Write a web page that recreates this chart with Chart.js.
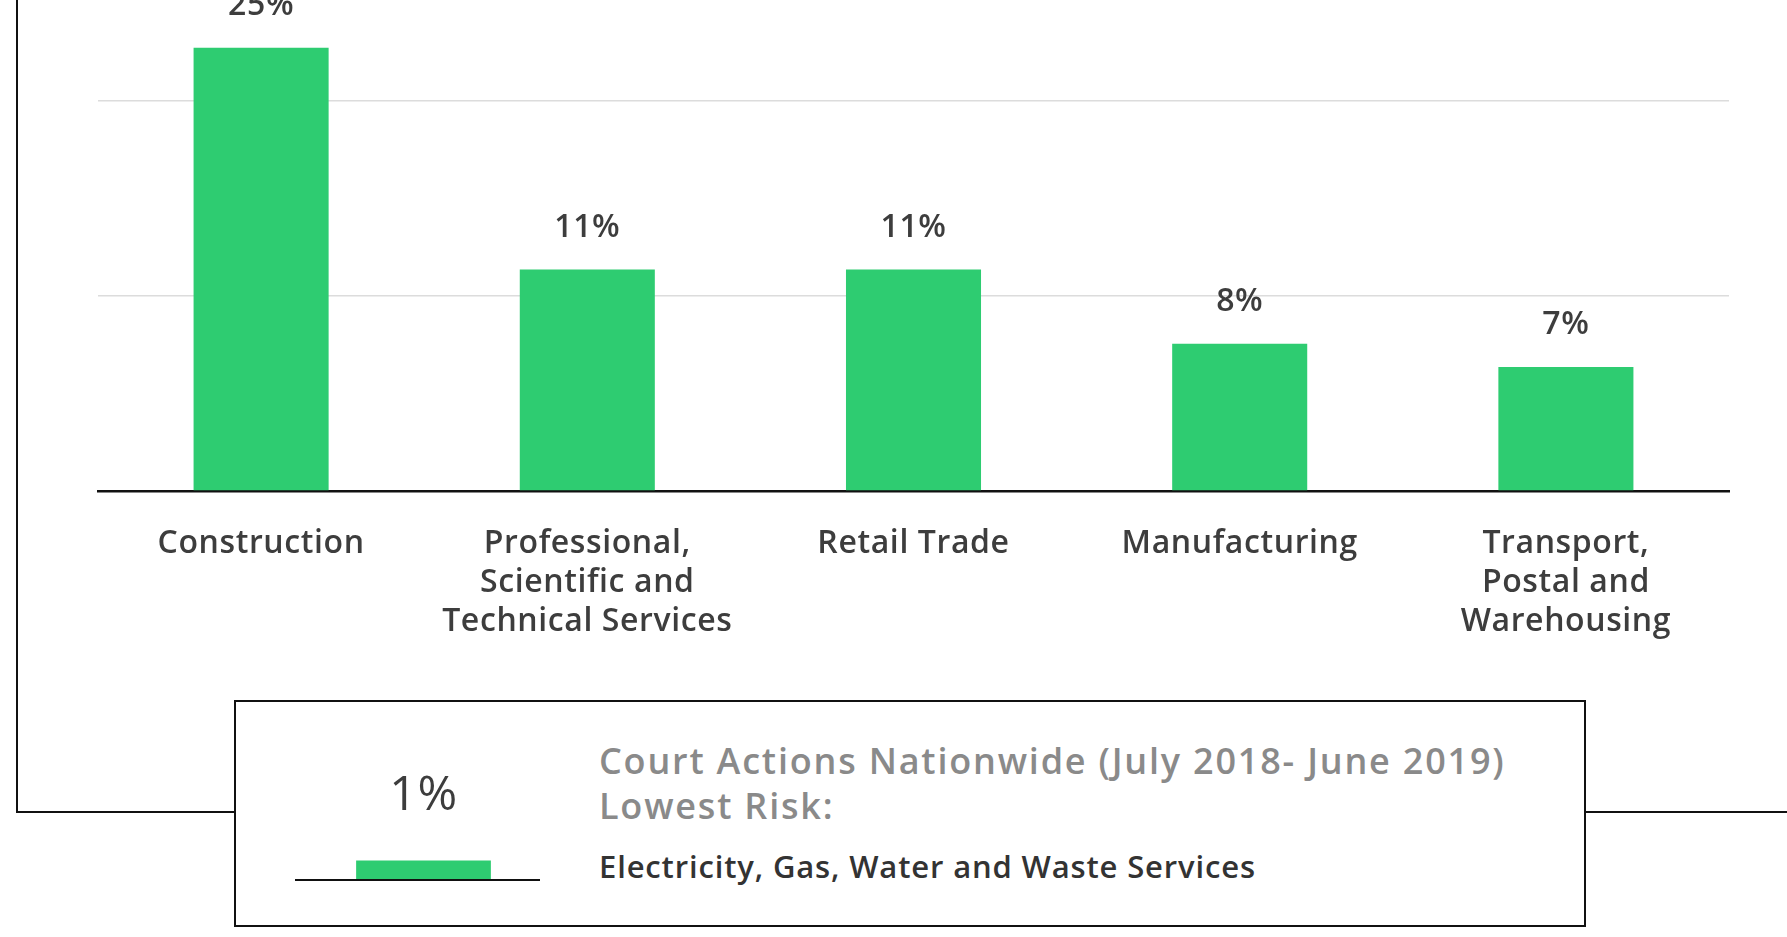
<!DOCTYPE html>
<html>
<head>
<meta charset="utf-8">
<script src="https://cdn.jsdelivr.net/npm/chart.js@4.4.1/dist/chart.umd.min.js"></script>
<style>
  html, body { margin: 0; padding: 0; background: #fff; }
  body { width: 1787px; height: 937px; overflow: hidden; position: relative; font-family: 'Open Sans', sans-serif; }
  #frame { position: absolute; left: 16px; top: -20px; width: 2000px; height: 831px; border-left: 2.5px solid #111; border-bottom: 2.5px solid #111; }
  #mainWrap { position: absolute; left: 0; top: -150px; width: 1787px; height: 821px; }
  #box { position: absolute; left: 234px; top: 700px; width: 1348px; height: 223px; border: 2.5px solid #111; background: #fff; }
  #miniWrap { position: absolute; left: 301px; top: 760px; width: 245px; height: 124px; }
  #baseLine { position: absolute; left: 295px; top: 878.5px; width: 245px; height: 2.5px; background: #111; }
  .boxText { position: absolute; left: 599px; white-space: nowrap; font-weight: 600; }
  #t1 { top: 738px; font-size: 36px; color: #8a8a8a; line-height: 45px; letter-spacing: 1.8px; }
  #t2 { top: 845px; font-size: 31px; color: #333; letter-spacing: 0.85px; }
</style>
</head>
<body>
<div id="frame"></div>
<div id="mainWrap"><canvas id="mainChart"></canvas></div>
<div id="box"></div>
<div id="miniWrap"><canvas id="miniChart"></canvas></div>
<div id="baseLine"></div>
<div class="boxText" id="t1">Court Actions Nationwide (July 2018- June 2019)<br>Lowest Risk:</div>
<div class="boxText" id="t2">Electricity, Gas, Water and Waste Services</div>
<script>
// Industries with most court actions
const categories = [
    'Construction',
    ['Professional,', 'Scientific and', 'Technical Services'],
    'Retail Trade',
    'Manufacturing',
    ['Transport,', 'Postal and', 'Warehousing']
];
const barValues = [25, 12.5, 12.5, 8.3, 7.0];
const valueLabels = ['25%', '11%', '11%', '8%', '7%'];

// Lowest risk (legend box)
const lowCategories = ['Electricity, Gas, Water and Waste Services'];
const lowValues = [1.1];
const lowLabels = ['1%'];

const green = '#2ecc71';
const fontFamily = "'Open Sans', sans-serif";

// gian chu rong hon cho giong font goc
const spacingPlugin = {
    id: 'spacing',
    beforeDraw(chart) {
        chart.ctx.letterSpacing = '0.6px';
    }
};

// ve nhan gia tri tren moi cot
const valueLabelPlugin = {
    id: 'valueLabels',
    afterDatasetsDraw(chart, args, opts) {
        const ctx = chart.ctx;
        const meta = chart.getDatasetMeta(0);
        ctx.save();
        ctx.fillStyle = opts.color;
        ctx.font = opts.font;
        ctx.textAlign = 'center';
        ctx.textBaseline = 'middle';
        meta.data.forEach((bar, i) => {
            ctx.fillText(opts.labels[i], bar.x, bar.y - opts.offset);
        });
        ctx.restore();
    }
};

new Chart(document.getElementById('mainChart'), {
    type: 'bar',
    data: {
        labels: categories,
        datasets: [{
            data: barValues,
            backgroundColor: green,
            borderWidth: 0,
            categoryPercentage: 0.414,
            barPercentage: 1
        }]
    },
    plugins: [spacingPlugin, valueLabelPlugin],
    options: {
        responsive: true,
        maintainAspectRatio: false,
        animation: false,
        layout: { padding: { top: 56, left: 98, right: 58, bottom: 0 } },
        plugins: {
            legend: { display: false },
            tooltip: { enabled: false },
            valueLabels: {
                labels: valueLabels,
                offset: 42,
                color: '#3d3d3d',
                font: '600 32px ' + fontFamily
            }
        },
        scales: {
            x: {
                grid: { display: false },
                border: { display: true, color: '#111', width: 2.5 },
                ticks: {
                    color: '#3d3d3d',
                    padding: 26,
                    maxRotation: 0,
                    autoSkip: false,
                    font: { size: 32, weight: 600, family: fontFamily, lineHeight: 1.21 }
                },
                afterFit(scale) { scale.height = 180; }
            },
            y: {
                min: 0,
                max: 33,
                ticks: { display: false, stepSize: 11 },
                border: { display: false },
                grid: {
                    drawTicks: false,
                    lineWidth: 1.5,
                    color: ctx => ctx.tick && ctx.tick.value === 0 ? 'rgba(0,0,0,0)' : '#dcdcdc'
                },
                afterFit(scale) { scale.width = 0; }
            }
        }
    }
});

new Chart(document.getElementById('miniChart'), {
    type: 'bar',
    data: {
        labels: lowCategories,
        datasets: [{
            data: lowValues,
            backgroundColor: green,
            borderWidth: 0,
            categoryPercentage: 0.55,
            barPercentage: 1
        }]
    },
    plugins: [spacingPlugin, valueLabelPlugin],
    options: {
        responsive: true,
        maintainAspectRatio: false,
        animation: false,
        layout: { padding: { top: 31.4, left: 0, right: 0, bottom: 0 } },
        plugins: {
            legend: { display: false },
            tooltip: { enabled: false },
            valueLabels: {
                labels: lowLabels,
                offset: 64,
                color: '#3d3d3d',
                font: '48px ' + fontFamily
            }
        },
        scales: {
            x: {
                grid: { display: false },
                border: { display: false },
                ticks: { display: false },
                afterFit(scale) { scale.height = 4; }
            },
            y: {
                display: false,
                min: 0,
                max: 5
            }
        }
    }
});
</script>
</body>
</html>
